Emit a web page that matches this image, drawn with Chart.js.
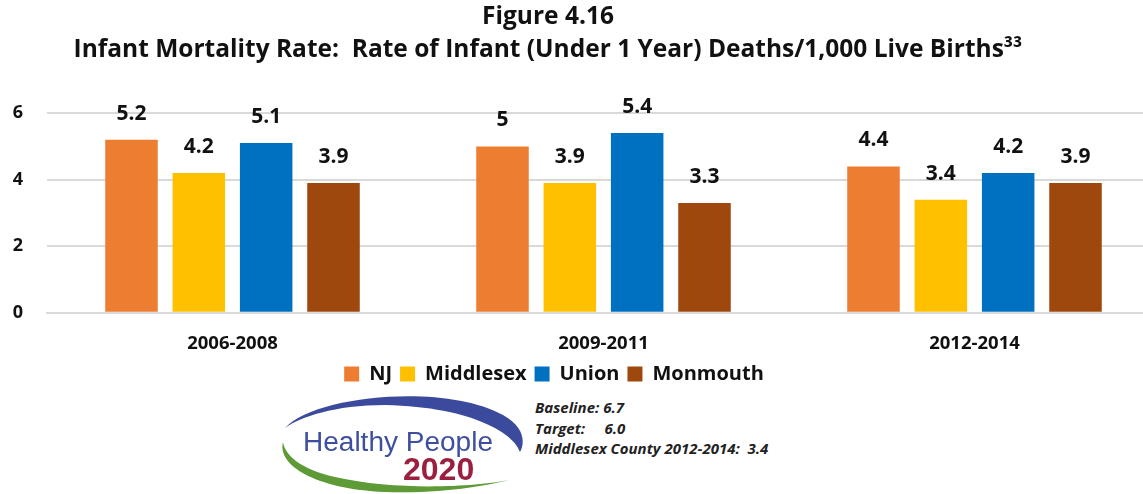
<!DOCTYPE html>
<html>
<head>
<meta charset="utf-8">
<script src="https://cdn.jsdelivr.net/npm/chart.js@4"></script>
<style>
    body { margin: 0; background: #fff; font-family: "Open Sans", sans-serif; }
    #wrap { position: relative; width: 1143px; height: 494px; overflow: hidden; }
    /* el gráfico original está recortado a la derecha */
    #chartBox { position: absolute; left: 0; top: 0; width: 1160px; height: 394px; }
    #logo { position: absolute; left: 275px; top: 385px; width: 260px; height: 109px; }
    #hpText { position: absolute; left: 535px; top: 397px; font: italic bold 15px "Open Sans", sans-serif; color: #222; line-height: 20.5px; white-space: pre; }
</style>
</head>
<body>
<div id="wrap">
    <div id="chartBox"><canvas id="infantChart"></canvas></div>
    <!-- logo Healthy People 2020 aproximado -->
    <svg id="logo" viewBox="0 0 260 109">
        <path d="M10 43 C 40 10, 170 -2, 228 30 C 250 42, 250 58, 245 67 C 240 50, 200 22, 110 20 C 60 20, 25 32, 10 43 Z" fill="#3b4a9c"/>
        <path d="M8 57 C 2 80, 40 104, 110 107 C 170 109, 215 100, 234 95 C 200 102, 120 106, 60 92 C 25 84, 10 70, 8 57 Z" fill="#5e9a35"/>
        <text x="28" y="66" font-family="Liberation Sans, Arial, sans-serif" font-size="27" textLength="190" lengthAdjust="spacingAndGlyphs" fill="#3e4f9f">Healthy People</text>
        <text x="128" y="95" font-family="Liberation Sans, Arial, sans-serif" font-size="32" font-weight="bold" fill="#9b1f3e">2020</text>
    </svg>
    <div id="hpText">Baseline: 6.7
Target:     6.0
Middlesex County 2012-2014:  3.4</div>
</div>

<script>
// datos del gráfico
const periods = ["2006-2008", "2009-2011", "2012-2014"];
const seriesNames = ["NJ", "Middlesex", "Union", "Monmouth"];
const njValues = [5.2, 5, 4.4];
const middlesexValues = [4.2, 3.9, 3.4];
const unionValues = [5.1, 5.4, 4.2];
const monmouthValues = [3.9, 3.3, 3.9];
const yTicks = [0, 2, 4, 6];
const seriesColors = ["#ED7D31", "#FFC000", "#0070C0", "#9E480E"];

const FONT = "'Open Sans', sans-serif";

// etiquetas de valor encima de las barras
const barLabels = {
    id: "barLabels",
    afterDatasetsDraw(chart) {
        const c = chart.ctx;
        c.save();
        c.font = "bold 21px " + FONT;
        c.fillStyle = "#111";
        c.textAlign = "center";
        c.textBaseline = "middle";
        chart.data.datasets.forEach((ds, i) => {
            chart.getDatasetMeta(i).data.forEach((bar, j) => {
                c.fillText(String(ds.data[j]), bar.x, bar.y - 26);
            });
        });
        c.restore();
    }
};

// mover título y leyenda a la izquierda como en la figura
const shiftBoxes = {
    id: "shiftBoxes",
    afterLayout(chart) {
        const t = chart.titleBlock, l = chart.legend;
        if (t) { t.left -= 38; t.right -= 38; }
        if (l) { l.left -= 32; l.right -= 32; }
    }
};

const allValues = [njValues, middlesexValues, unionValues, monmouthValues];

new Chart(document.getElementById("infantChart"), {
    type: "bar",
    data: {
        labels: periods,
        datasets: seriesNames.map((name, i) => ({
            label: name,
            data: allValues[i],
            backgroundColor: seriesColors[i],
            barPercentage: 0.78,
            categoryPercentage: 0.726
        }))
    },
    options: {
        responsive: true,
        maintainAspectRatio: false,
        animation: false,
        layout: { padding: { left: 12, right: 0, top: 0, bottom: 0 } },
        plugins: {
            title: {
                display: true,
                text: ["Figure 4.16", "Infant Mortality Rate:  Rate of Infant (Under 1 Year) Deaths/1,000 Live Births³³"],
                color: "#111",
                font: { family: FONT, size: 24.5, weight: "bold", lineHeight: 1.35 },
                padding: { top: 0, bottom: 47 }
            },
            legend: {
                position: "bottom",
                labels: {
                    color: "#111",
                    font: { family: FONT, size: 20, weight: "bold" },
                    boxWidth: 15,
                    boxHeight: 15,
                    padding: 8
                }
            },
            tooltip: { enabled: false }
        },
        scales: {
            x: {
                grid: { display: false },
                border: { color: "#d9d9d9", width: 2 },
                afterFit: axis => { axis.height -= 11; },
                ticks: { color: "#111", font: { family: FONT, size: 18.5, weight: "bold" }, padding: 12 }
            },
            y: {
                min: 0,
                max: 6,
                afterBuildTicks: axis => { axis.ticks = yTicks.map(v => ({ value: v })); },
                afterFit: axis => { axis.width = 35; },
                grid: { color: "#d9d9d9", lineWidth: 2, drawTicks: false },
                border: { display: false },
                ticks: { color: "#111", font: { family: FONT, size: 18, weight: "bold" }, padding: 24 }
            }
        }
    },
    plugins: [barLabels, shiftBoxes]
});
</script>
</body>
</html>
